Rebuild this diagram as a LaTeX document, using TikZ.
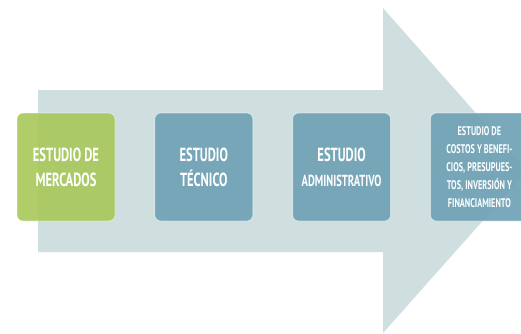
\documentclass[tikz,border=0pt]{standalone}
\usepackage{fontspec}
\setmainfont{PT Sans}[FakeStretch=0.66, BoldFont={* Bold}, BoldFeatures={FakeStretch=0.66}]
\usetikzlibrary{positioning}

\definecolor{arrowgray}{HTML}{CFDFE0}
\definecolor{boxgreen}{HTML}{A9C95D}
\definecolor{boxblue}{HTML}{6FA2B5}

\tikzset{
  stage/.style={rectangle, rounded corners=6pt, minimum width=98pt, minimum height=108pt,
    inner sep=2pt, fill opacity=0.92, text opacity=1, draw=white, draw opacity=0.5,
    line width=0.8pt, text=white, align=center, font=\bfseries\fontsize{19}{25}\selectfont},
  small/.style={font=\bfseries\fontsize{12.5}{18}\selectfont}
}

\begin{document}
\begin{tikzpicture}[x=1pt, y=1pt, node distance=39pt]
    \useasboundingbox (0,0) rectangle (521,333);
    \clip (0,0) rectangle (521,333);

    % big arrow behind the stages
    \fill[arrowgray] (38,243) -- (383,243) -- (383,325) -- (527,162)
        -- (383,0) -- (383,81) -- (38,81) -- cycle;

    \node[stage, fill=boxgreen] (mercado) at (66,166) {ESTUDIO DE\\MERCADOS};
    \node[stage, fill=boxblue] (tecnico) [right=of mercado] {ESTUDIO\\TÉCNICO};
    \node[stage, fill=boxblue] (admin) [right=of tecnico]
        {ESTUDIO\\{\fontsize{16}{25}\selectfont ADMINISTRATIVO}};
    \node[stage, small, fill=boxblue] (costos) [right=of admin]
        {ESTUDIO DE\\COSTOS Y BENEFI-\\CIOS, PRESUPUES-\\TOS, INVERSIÓN Y\\FINANCIAMIENTO};
\end{tikzpicture}
\end{document}
